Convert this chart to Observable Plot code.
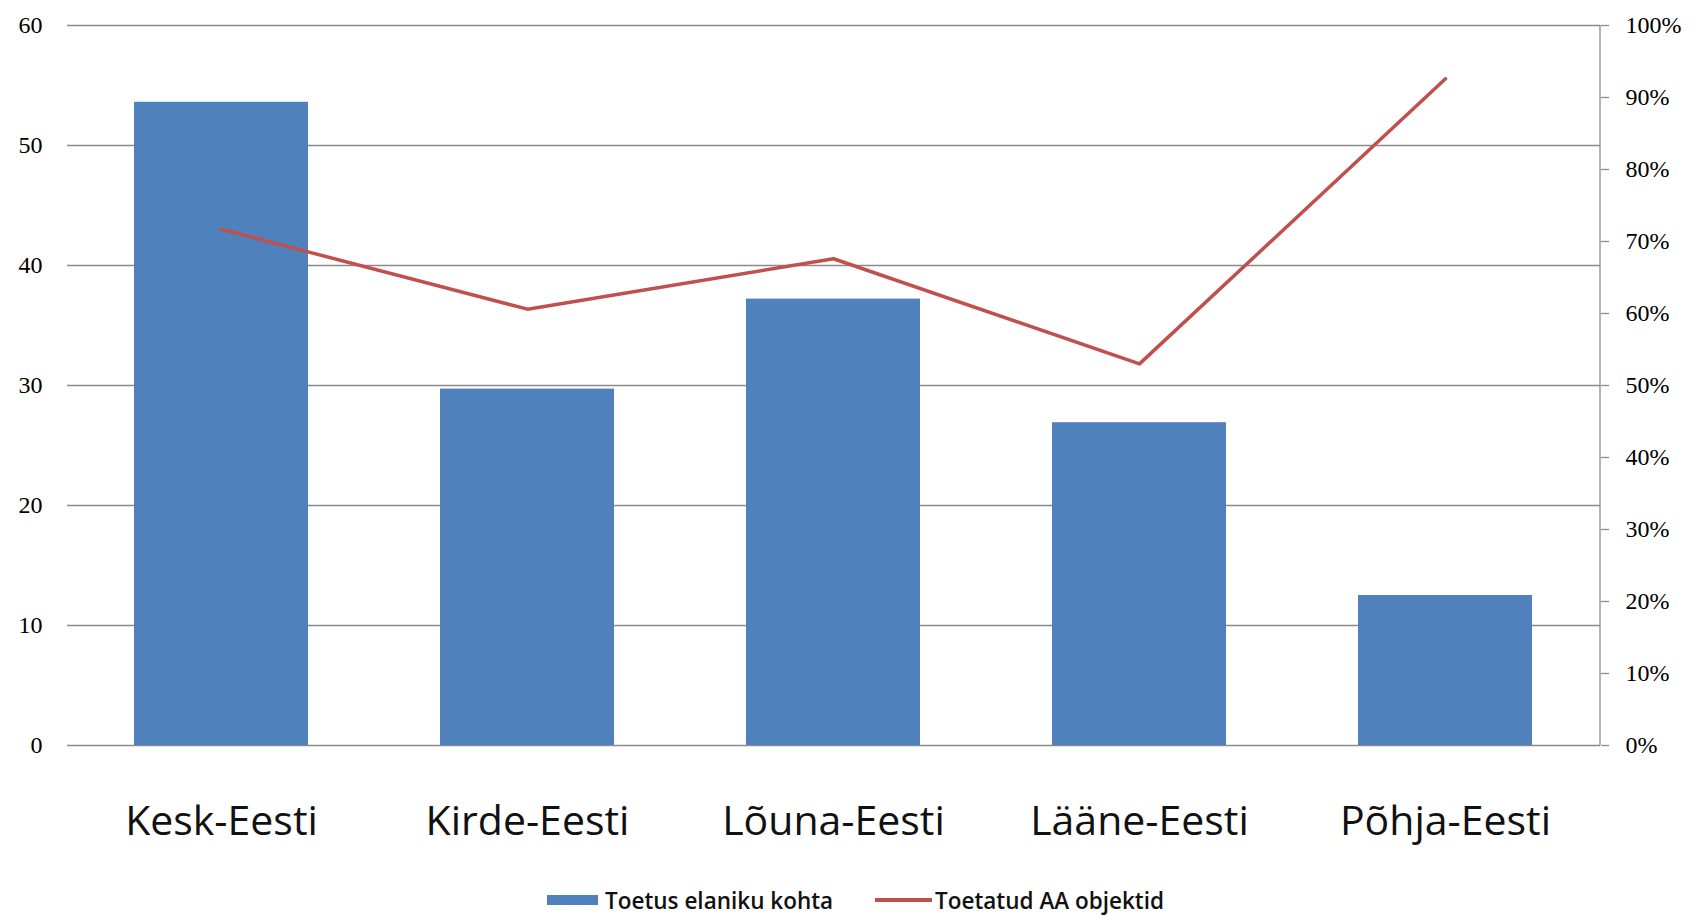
<!DOCTYPE html>
<html>
<head>
<meta charset="utf-8">
<script src="https://cdn.jsdelivr.net/npm/d3@7"></script>
<script src="https://cdn.jsdelivr.net/npm/@observablehq/plot@0.6"></script>
<style>
  html, body { margin: 0; padding: 0; background: #fff; }
  #wrap { position: relative; width: 1699px; height: 916px; overflow: hidden; }
  .leg { position: absolute; top: 888px; height: 24px; display: flex; align-items: center; white-space: nowrap;
         font-family: "Open Sans", Roboto, sans-serif; font-weight: 600; font-size: 22.5px; color: #111; }
  .sw-bar { width: 51px; height: 10px; background: #4F81BD; margin-right: 7px; }
  .sw-line { width: 57px; height: 4px; background: #C0504D; margin-right: 3px; }
</style>
</head>
<body>
<div id="wrap">
  <div id="chart"></div>
  <div class="leg" style="left:547px"><div class="sw-bar"></div><span>Toetus elaniku kohta</span></div>
  <div class="leg" style="left:875px"><div class="sw-line"></div><span>Toetatud AA objektid</span></div>
</div>
<script>
// Data
const regions = ["Kesk-Eesti", "Kirde-Eesti", "Lõuna-Eesti", "Lääne-Eesti", "Põhja-Eesti"];
const supportPerResident = [53.6, 29.7, 37.2, 26.9, 12.5];      // left axis
const supportedObjectsPct = [71.7, 60.6, 67.6, 53.0, 92.6];     // right axis (%)
const leftTicks = [0, 10, 20, 30, 40, 50, 60];
const rightTicksPct = [0, 10, 20, 30, 40, 50, 60, 70, 80, 90, 100];

const leftMax = 60;
const pctToLeft = p => p / 100 * leftMax;

const rows = regions.map((r, i) => ({region: r, value: supportPerResident[i], pct: supportedObjectsPct[i]}));

const rightAxisLine = (index, scales, values, dims) => {
  const x = dims.width - dims.marginRight;
  const line = d3.create("svg:line")
    .attr("x1", x).attr("x2", x)
    .attr("y1", scales.y(leftMax)).attr("y2", scales.y(0))
    .attr("stroke", "#8a8a8a").attr("stroke-width", 1.3);
  return line.node();
};

const chart = Plot.plot({
  width: 1699,
  height: 870,
  marginLeft: 67,
  marginRight: 99,
  marginTop: 25,
  marginBottom: 125,
  style: {background: "#fff", overflow: "visible"},
  x: {domain: regions, paddingInner: 0.43, paddingOuter: 0.215, label: null},
  y: {domain: [0, leftMax], label: null},
  marks: [
    Plot.ruleY(leftTicks, {stroke: "#8a8a8a", strokeWidth: 1.3}),
    Plot.barY(rows, {x: "region", y: "value", fill: "#4F81BD"}),
    Plot.line(rows, {x: "region", y: d => pctToLeft(d.pct), stroke: "#C0504D", strokeWidth: 3.5}),
    rightAxisLine,
    Plot.axisY(leftTicks, {anchor: "left", tickSize: 0, tickPadding: 25, label: null,
      fontSize: 24, fontFamily: "Liberation Serif, serif", fill: "#000"}),
    Plot.axisY(rightTicksPct.map(pctToLeft), {anchor: "right", tickSize: 8, tickPadding: 17, label: null,
      stroke: "#8a8a8a", strokeWidth: 1.3,
      tickFormat: d => Math.round(d / leftMax * 100) + "%",
      fontSize: 24, fontFamily: "Liberation Serif, serif", fill: "#000"}),
    Plot.axisX({anchor: "bottom", tickSize: 0, tickPadding: 60, label: null,
      fontSize: 41, fontFamily: "Open Sans, sans-serif", fill: "#111"})
  ]
});
document.getElementById("chart").appendChild(chart);
</script>
</body>
</html>
